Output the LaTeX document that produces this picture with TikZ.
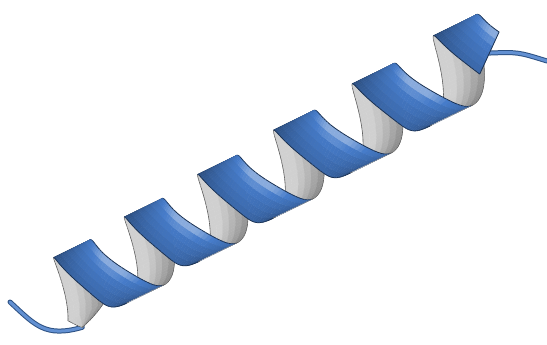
\documentclass[tikz,border=0pt]{standalone}
\usepackage{tikz}
\definecolor{ribbonBlue}{RGB}{70,124,202}
\definecolor{ribbonGray}{RGB}{208,208,208}

% centre and half width vector of the ribbon at angle #1 (degrees)
\newcommand{\ribbonAt}[1]{%
  \pgfmathsetmacro{\rt}{(#1)/360}%
  \pgfmathsetmacro{\rw}{20*(1+0.03*\rt)*min(1,((#1)+170)/30)}%
  \pgfmathsetmacro{\rg}{max(0,sin((#1)+12.5))^2}%
  \pgfmathsetmacro{\rth}{-26-40*\rg}%
  \pgfmathsetmacro{\rcx}{72.5+70*\rt+1.32*\rt*\rt-21*(cos(#1)-1)-5*sin(#1)}%
  \pgfmathsetmacro{\rcy}{249-40*\rt-0.94*\rt*\rt-31*(cos(#1)-1)+11*sin(#1)}%
  \pgfmathsetmacro{\rwx}{\rw*cos(\rth)}%
  \pgfmathsetmacro{\rwy}{\rw*sin(\rth)}%
}

\begin{document}
\begin{tikzpicture}[x=1pt,y=-1pt]

  \tikzstyle{tubeEdge} = [line width=5pt, ribbonBlue!65!black, line cap=round];
  \tikzstyle{tubeFill} = [line width=3pt, ribbonBlue!85!white, line cap=round];
  \tikzstyle{blueEdge} = [line width=0.8pt, ribbonBlue!40!black];
  \tikzstyle{grayEdge} = [line width=0.6pt, ribbonGray!45!black];

  \useasboundingbox (0,0) rectangle (547,345);

  \ribbonAt{-170}
  \coordinate (ribbonStart) at (\rcx,\rcy);
  \ribbonAt{1885}
  \coordinate (ribbonEnd) at (\rcx,\rcy);
  \coordinate (endTop) at ({\rcx+\rwx},{\rcy+\rwy});
  \coordinate (endBottom) at ({\rcx-\rwx},{\rcy-\rwy});
  \coordinate (tailLeft) at (10,302);
  \coordinate (tailRight) at (547,61);

  % loose ends
  \draw[tubeEdge] (tailLeft) .. controls (35,325) and (45,338) .. (ribbonStart);
  \draw[tubeFill] (tailLeft) .. controls (35,325) and (45,338) .. (ribbonStart);
  \draw[tubeEdge] (ribbonEnd) .. controls (518,52) .. (tailRight);
  \draw[tubeFill] (ribbonEnd) .. controls (518,52) .. (tailRight);

  % helix: back half first, then front half
  \foreach \pass in {0,1}{
    \foreach \i in {0,...,410}{
      \pgfmathsetmacro{\pa}{-170+5*\i}
      \pgfmathsetmacro{\pb}{\pa+5}
      \pgfmathsetmacro{\face}{sin((\pa+\pb)/2+12.5)}
      \pgfmathtruncatemacro{\drawit}{(\face<0)==(\pass==0)}
      \ifnum\drawit=1
        \ribbonAt{\pa}\let\cxa\rcx\let\cya\rcy\let\wxa\rwx\let\wya\rwy
        \ribbonAt{\pb}\let\cxb\rcx\let\cyb\rcy\let\wxb\rwx\let\wyb\rwy
        \pgfmathsetmacro{\crossv}{(\cxb-\cxa)*\wya-(\cyb-\cya)*\wxa}
        \pgfmathsetmacro{\fa}{abs(\face)}
        \pgfmathsetmacro{\shine}{max(0,cos((\pa+\pb)/2-95))^6}
        \foreach \sv in {-1,-0.6667,-0.3333,0,0.3333,0.6667}{
          \pgfmathsetmacro{\vm}{\sv+0.1667}
          \ifdim\crossv pt<0pt
            \pgfmathsetmacro{\lum}{min(1.12,0.7+0.25*\fa+0.12*\vm+0.2*\shine*max(0,\vm-0.3))}
            \pgfmathsetmacro{\pk}{100*min(1,\lum)}
            \pgfmathsetmacro{\pw}{100-300*max(0,\lum-1)}
            \colorlet{segColor}{ribbonBlue!\pw!white!\pk!black}
          \else
            \pgfmathsetmacro{\lum}{0.8+0.12*\fa-0.2*\vm}
            \pgfmathsetmacro{\pk}{100*min(1,\lum)}
            \colorlet{segColor}{ribbonGray!\pk!black}
          \fi
          \fill[fill=segColor, draw=segColor, line width=0.25pt]
            ({\cxa+\sv*\wxa},{\cya+\sv*\wya}) -- ({\cxb+\sv*\wxb},{\cyb+\sv*\wyb})
            -- ({\cxb+(\sv+0.3333)*\wxb},{\cyb+(\sv+0.3333)*\wyb})
            -- ({\cxa+(\sv+0.3333)*\wxa},{\cya+(\sv+0.3333)*\wya}) -- cycle;
        }
        \ifdim\crossv pt<0pt
          \def\edgestyle{blueEdge}
        \else
          \def\edgestyle{grayEdge}
        \fi
        \draw[\edgestyle] ({\cxa+\wxa},{\cya+\wya}) -- ({\cxb+\wxb},{\cyb+\wyb});
        \draw[\edgestyle] ({\cxa-\wxa},{\cya-\wya}) -- ({\cxb-\wxb},{\cyb-\wyb});
        % cap line where the ribbon comes over the top
        \pgfmathtruncatemacro{\isfirst}{(sin(\pa+12.5)<0)&&(\face>=0)}
        \ifnum\isfirst=1
          \draw[blueEdge] ({\cxa+\wxa},{\cya+\wya}) -- ({\cxa-\wxa},{\cya-\wya});
        \fi
      \fi
    }
  }

  \draw[blueEdge] (endTop) -- (endBottom);

\end{tikzpicture}
\end{document}
